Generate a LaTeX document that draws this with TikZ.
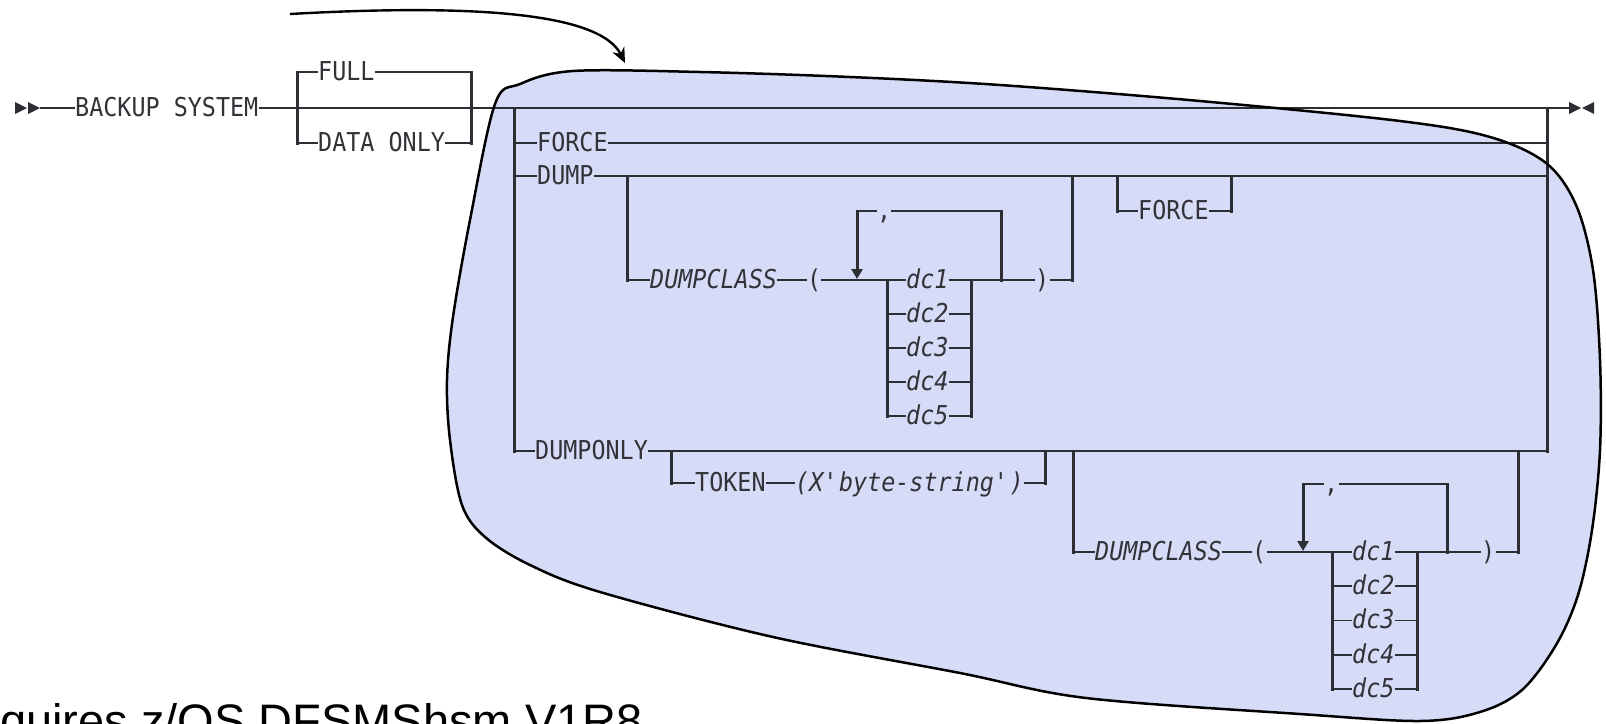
\documentclass[tikz,border=0pt]{standalone}
\usepackage{fontspec}
\setmainfont{Liberation Sans}
\newfontfamily\synf[FakeStretch=0.9]{DejaVu Sans Mono}
\usetikzlibrary{arrows.meta}
\definecolor{lc}{RGB}{45,45,52}
\definecolor{tc}{RGB}{50,50,56}
\definecolor{blobfill}{RGB}{214,220,247}
\begin{document}
\begin{tikzpicture}[x=1pt,y=-1pt,
  rr/.style={line width=1.6pt, draw=lc},
  bar/.style={line width=3pt, draw=lc, line cap=rect},
  kw/.style={font={\fontsize{26}{26}\selectfont\synf}, text=tc, inner sep=0pt,
    text height=19pt, text depth=3pt, anchor=west},
  kwi/.style={kw, font={\fontsize{26}{26}\selectfont\synf\itshape}},
  endmark/.style={fill=lc},
  blobline/.style={line width=2.5pt, draw=black},
  callout/.style={line width=2.4pt, draw=black, -{Stealth[length=15pt,width=13pt]}}
]
\useasboundingbox (0,0) rectangle (1606,723);
\clip (0,0) rectangle (1606,723);

% highlighted region (fill)
\def\blobpts{(495,104) (520,84) (573,71) (700,72) (850,77) (1000,85) (1200,101) (1400,121) (1490,137) (1546,163) (1576,205) (1593,270) (1600,360) (1600,450) (1592,530) (1578,595) (1556,645) (1522,690) (1480,712) (1420,721) (1300,714) (1086,698) (960,673) (773,637) (600,592) (530,565) (485,537) (462,505) (450,440) (447,380) (453,317) (470,220)}
\fill[blobfill] plot[smooth cycle, tension=0.55] coordinates {\blobpts};

% ---------- start ----------
\fill[endmark] (15,102) -- (27,108) -- (15,114) -- cycle;
\fill[endmark] (28,102) -- (40,108) -- (28,114) -- cycle;
\coordinate (st) at (40,108);
\node[kw] (bs) at (75,108) {BACKUP SYSTEM};
\coordinate (endm) at (1569,108);
\draw[rr] (st) -- (bs.west);
\draw[rr] (bs.east) -- (endm);
\fill[endmark] (1569,102) -- (1581,108) -- (1569,114) -- cycle;
\fill[endmark] (1594,102) -- (1582,108) -- (1594,114) -- cycle;

% FULL / DATA ONLY
\node[kw] (full) at (318,72) {FULL};
\node[kw] (data) at (318,143) {DATA ONLY};
\coordinate (fa) at (297,72); \coordinate (fb) at (297,143);
\coordinate (fc) at (471,72); \coordinate (fd) at (471,143);
\draw[rr] (fa) -- (full.west); \draw[rr] (full.east) -- (fc);
\draw[rr] (fb) -- (data.west); \draw[rr] (data.east) -- (fd);
\draw[bar] (fa) -- (fb);
\draw[bar] (fc) -- (fd);

% main choice bars
\coordinate (la) at (514,108); \coordinate (lb) at (514,451);
\coordinate (ra) at (1547,108); \coordinate (rb) at (1547,451);
\draw[bar] (la) -- (lb);
\draw[bar] (ra) -- (rb);

% FORCE
\node[kw] (force1) at (537,143) {FORCE};
\draw[rr] (514,143) -- (force1.west);
\draw[rr] (force1.east) -- (1547,143);

% DUMP
\node[kw] (dump) at (537,176) {DUMP};
\draw[rr] (514,176) -- (dump.west);
\draw[rr] (dump.east) -- (1547,176);

% DUMP -> DUMPCLASS bracket
\node[kwi] (dcl1) at (650,280) {DUMPCLASS};
\node[kw] (lp1) at (807,280) {(};
\node[kwi] (dcA1) at (906,280) {dc1};
\node[kwi] (dcA2) at (906,314) {dc2};
\node[kwi] (dcA3) at (906,348) {dc3};
\node[kwi] (dcA4) at (906,382) {dc4};
\node[kwi] (dcA5) at (906,416) {dc5};
\node[kw] (rp1) at (1035,280) {)};
\node[kw] (cm1) at (877,211) {,};
\draw[bar] (627,176) -- (627,280);
\draw[rr] (627,280) -- (dcl1.west);
\draw[rr] (dcl1.east) -- (lp1.west);
\draw[rr] (lp1.east) -- (dcA1.west);
\draw[rr] (dcA1.east) -- (rp1.west);
\draw[rr] (rp1.east) -- (1072,280);
\draw[bar] (1072,280) -- (1072,176);
\draw[bar] (887,280) -- (887,416);
\draw[bar] (971,280) -- (971,416);
\foreach \n/\y in {dcA2/314,dcA3/348,dcA4/382,dcA5/416}{
  \draw[rr] (887,\y) -- (\n.west);
  \draw[rr] (\n.east) -- (971,\y);
}
\draw[bar] (1001,211) -- (1001,280);
\draw[rr] (1001,211) -- (cm1.east);
\draw[rr] (cm1.west) -- (857,211);
\draw[line width=3pt, draw=lc, -{Triangle[length=10pt,width=11pt]}] (857,210) -- (857,279);

% FORCE after DUMP
\node[kw] (force2) at (1138,211) {FORCE};
\draw[bar] (1117,176) -- (1117,211);
\draw[rr] (1117,211) -- (force2.west);
\draw[rr] (force2.east) -- (1231,211);
\draw[bar] (1231,211) -- (1231,176);

% DUMPONLY
\node[kw] (donly) at (535,451) {DUMPONLY};
\draw[rr] (lb) -- (donly.west);
\draw[rr] (donly.east) -- (rb);

% TOKEN
\node[kw] (tok) at (695,483) {TOKEN};
\node[kwi] (bstr) at (795,483) {(X\textquotesingle byte-string\textquotesingle)};
\draw[bar] (671,451) -- (671,483);
\draw[rr] (671,483) -- (tok.west);
\draw[rr] (tok.east) -- (bstr.west);
\draw[rr] (bstr.east) -- (1045,483);
\draw[bar] (1045,483) -- (1045,451);

% DUMPONLY -> DUMPCLASS bracket
\node[kwi] (dcl2) at (1095,552) {DUMPCLASS};
\node[kw] (lp2) at (1252,552) {(};
\node[kwi] (dcB1) at (1352,552) {dc1};
\node[kwi] (dcB2) at (1352,586) {dc2};
\node[kwi] (dcB3) at (1352,620.5) {dc3};
\node[kwi] (dcB4) at (1352,655) {dc4};
\node[kwi] (dcB5) at (1352,689) {dc5};
\node[kw] (rp2) at (1481,552) {)};
\node[kw] (cm2) at (1324,484) {,};
\draw[bar] (1073,451) -- (1073,552);
\draw[rr] (1073,552) -- (dcl2.west);
\draw[rr] (dcl2.east) -- (lp2.west);
\draw[rr] (lp2.east) -- (dcB1.west);
\draw[rr] (dcB1.east) -- (rp2.west);
\draw[rr] (rp2.east) -- (1518,552);
\draw[bar] (1518,552) -- (1518,451);
\draw[bar] (1332,552) -- (1332,689);
\draw[bar] (1417,552) -- (1417,689);
\foreach \n/\y in {dcB2/586,dcB3/620.5,dcB4/655,dcB5/689}{
  \draw[rr] (1332,\y) -- (\n.west);
  \draw[rr] (\n.east) -- (1417,\y);
}
\draw[bar] (1447,484) -- (1447,552);
\draw[rr] (1447,484) -- (cm2.east);
\draw[rr] (cm2.west) -- (1303,484);
\draw[line width=3pt, draw=lc, -{Triangle[length=10pt,width=11pt]}] (1303,483) -- (1303,551);

% highlighted region (outline)
\draw[blobline] plot[smooth cycle, tension=0.55] coordinates {\blobpts};

% callout arrow
\coordinate (aS) at (290,14);
\coordinate (aE) at (625,63);
\draw[callout] (aS) .. controls (470,4) and (600,12) .. (aE);

% footnote text (cut off by the picture edge)
\node[font=\fontsize{47}{47}\selectfont, anchor=base west, inner sep=0pt] (req) at (0,737) {quires z/OS DFSMShsm V1R8};
\end{tikzpicture}
\end{document}
